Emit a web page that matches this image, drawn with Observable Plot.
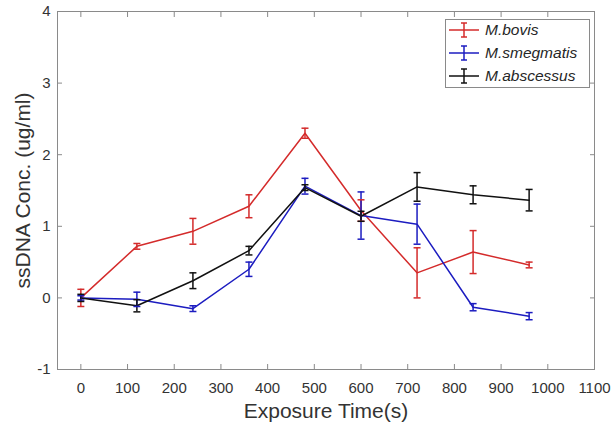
<!DOCTYPE html>
<html>
<head>
<meta charset="utf-8">
<script src="https://cdn.jsdelivr.net/npm/d3@7"></script>
<script src="https://cdn.jsdelivr.net/npm/@observablehq/plot@0.6"></script>
<style>
  html, body { margin: 0; padding: 0; background: #fff; }
  #wrap { position: relative; width: 613px; height: 428px; font-family: "Liberation Sans", Arial, sans-serif; }
  #legend { position: absolute; left: 445px; top: 19px; width: 145px; height: 69px; border: 1px solid #8a8a8a; background: #fff; box-sizing: border-box; }
  .row { position: absolute; left: 0; height: 24px; display: flex; align-items: center; }
  .row span { font-style: italic; font-size: 15.5px; color: #262626; margin-left: 3px; }
</style>
</head>
<body>
<div id="wrap"></div>
<script>
const times = [0, 120, 240, 360, 480, 600, 720, 840, 960];
const seriesNames = ["M.bovis", "M.smegmatis", "M.abscessus"];
const seriesColors = ["#d42b2b", "#1c1cc0", "#111111"];
const bovis      = [0, 0.72, 0.93, 1.28, 2.30, 1.22, 0.35, 0.64, 0.46];
const bovisErr   = [0.12, 0.04, 0.18, 0.16, 0.07, 0.15, 0.35, 0.30, 0.04];
const smeg       = [0, -0.02, -0.15, 0.40, 1.56, 1.15, 1.03, -0.13, -0.255];
const smegErr    = [0.03, 0.10, 0.04, 0.10, 0.11, 0.33, 0.28, 0.05, 0.05];
const absc       = [0, -0.11, 0.24, 0.66, 1.54, 1.14, 1.55, 1.44, 1.365];
const abscErr    = [0.05, 0.085, 0.11, 0.06, 0.04, 0.07, 0.20, 0.125, 0.15];
const xTicks = [0, 100, 200, 300, 400, 500, 600, 700, 800, 900, 1000, 1100];
const yTicks = [-1, 0, 1, 2, 3, 4];

const vals = [bovis, smeg, absc];
const errs = [bovisErr, smegErr, abscErr];
const data = [];
seriesNames.forEach((s, i) => times.forEach((t, j) => data.push({series: s, t, v: vals[i][j], e: errs[i][j]})));

const cap = {draw(ctx, size) { const r = Math.sqrt(size / Math.PI); ctx.moveTo(-r, 0); ctx.lineTo(r, 0); }};
const axisColor = "#8a8a8a";
const textColor = "#333333";
const fmt = d => String(d);

const chart = Plot.plot({
  width: 613, height: 428,
  marginLeft: 57, marginRight: 19, marginTop: 11, marginBottom: 59,
  style: {fontFamily: "Liberation Sans, Arial, sans-serif", background: "#fff", overflow: "visible"},
  x: {domain: [-50, 1100]},
  y: {domain: [-1, 4]},
  color: {domain: seriesNames, range: seriesColors},
  marks: [
    Plot.frame({stroke: axisColor, strokeWidth: 1}),
    Plot.axisX(xTicks, {anchor: "bottom", tickSize: -5, stroke: axisColor, text: null, label: null}),
    Plot.axisX(xTicks, {anchor: "top", tickSize: -5, stroke: axisColor, text: null, label: null}),
    Plot.axisY(yTicks, {anchor: "left", tickSize: -5, stroke: axisColor, text: null, label: null}),
    Plot.axisY(yTicks, {anchor: "right", tickSize: -5, stroke: axisColor, text: null, label: null}),
    Plot.axisX(xTicks, {anchor: "bottom", tickSize: 0, tickPadding: 13, fontSize: 15, fill: textColor, tickFormat: fmt, label: null}),
    Plot.axisY(yTicks, {anchor: "left", tickSize: 0, tickPadding: 7, fontSize: 15, fill: textColor, tickFormat: fmt, label: null}),
    Plot.axisX(xTicks, {anchor: "bottom", tickSize: 0, text: null, fontSize: 21, fill: textColor,
      label: "Exposure Time(s)", labelAnchor: "center", labelOffset: 48, labelArrow: "none"}),
    Plot.axisY(yTicks, {anchor: "left", tickSize: 0, text: null, fontSize: 21, fill: textColor,
      label: "ssDNA Conc. (ug/ml)", labelAnchor: "center", labelOffset: 42, labelArrow: "none"}),
    Plot.lineY(data, {x: "t", y: "v", z: "series", stroke: "series", strokeWidth: 1.5}),
    Plot.ruleX(data, {x: "t", y1: d => d.v - d.e, y2: d => d.v + d.e, stroke: "series", strokeWidth: 1.5}),
    Plot.dot(data, {x: "t", y: d => d.v - d.e, symbol: cap, r: 3.5, stroke: "series", strokeWidth: 1.5, fill: "none"}),
    Plot.dot(data, {x: "t", y: d => d.v + d.e, symbol: cap, r: 3.5, stroke: "series", strokeWidth: 1.5, fill: "none"})
  ]
});
const wrap = document.getElementById("wrap");
wrap.appendChild(chart);

// legend
const legend = document.createElement("div");
legend.id = "legend";
seriesNames.forEach((s, i) => {
  const row = document.createElement("div");
  row.className = "row";
  row.style.top = (i * 23 - 2) + "px";
  const c = seriesColors[i];
  row.innerHTML = `<svg width="36" height="24"><line x1="3" x2="33" y1="12" y2="12" stroke="${c}" stroke-width="1.5"/>` +
    `<line x1="18" x2="18" y1="5" y2="19" stroke="${c}" stroke-width="1.5"/>` +
    `<line x1="15" x2="21" y1="5" y2="5" stroke="${c}" stroke-width="1.5"/>` +
    `<line x1="15" x2="21" y1="19" y2="19" stroke="${c}" stroke-width="1.5"/></svg><span>${s}</span>`;
  legend.appendChild(row);
});
wrap.appendChild(legend);
</script>
</body>
</html>
